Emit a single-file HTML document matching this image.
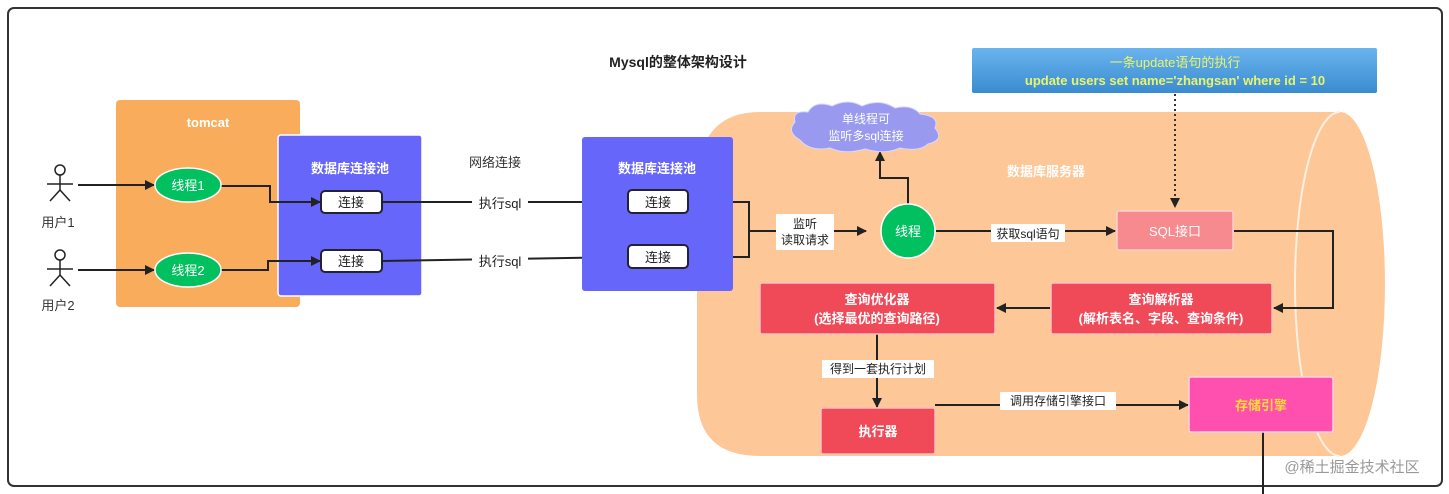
<!DOCTYPE html>
<html><head><meta charset="utf-8"><style>
html,body{margin:0;padding:0;background:#fff;}
svg{display:block;font-family:"Liberation Sans","Noto Sans CJK SC",sans-serif;}
</style></head><body>
<svg width="1449" height="494" viewBox="0 0 1449 494" xmlns="http://www.w3.org/2000/svg">
<defs>
<marker id="a" markerWidth="10" markerHeight="10" refX="9" refY="5" orient="auto" markerUnits="userSpaceOnUse"><path d="M0,0 L10,5 L0,10 Z" fill="#222"/></marker>
<linearGradient id="g" x1="0" y1="0" x2="0" y2="1"><stop offset="0" stop-color="#6ab4ee"/><stop offset="1" stop-color="#3a8bd0"/></linearGradient>
</defs>
<rect x="8" y="8" width="1434" height="478" rx="6" fill="#fff" stroke="#333" stroke-width="2"/>
<text x="678" y="67" text-anchor="middle" font-size="14" font-weight="bold" fill="#222">Mysql的整体架构设计</text>

<!-- cylinder -->
<path d="M760,112 L1340,112 A45,172 0 0 1 1340,456 L760,456 Q697,456 697,395 L697,180 Q700,112 760,112 Z" fill="#fdc797"/>
<path d="M1340,112 A45,172 0 0 0 1340,456" fill="none" stroke="#fff0e0" stroke-width="2"/>

<!-- top blue box -->
<rect x="972" y="48" width="405" height="45" rx="2" fill="url(#g)"/>
<text x="1175" y="67" text-anchor="middle" font-size="13" fill="#e8f56a">一条update语句的执行</text>
<text x="1175" y="85" text-anchor="middle" font-size="13" font-weight="bold" fill="#e8f56a">update users set name='zhangsan' where id = 10</text>
<line x1="1175" y1="94" x2="1175" y2="207" stroke="#333" stroke-width="2" stroke-dasharray="2,3" marker-end="url(#a)"/>

<!-- tomcat -->
<rect x="116" y="100" width="184" height="207" rx="4" fill="#f9ac5b"/>
<text x="208" y="127" text-anchor="middle" font-size="13" font-weight="bold" fill="#fff">tomcat</text>
<rect x="278" y="135" width="144" height="161" rx="3" fill="#6666fa" stroke="#fff" stroke-width="1.5"/>
<text x="350" y="173" text-anchor="middle" font-size="13" font-weight="bold" fill="#fff">数据库连接池</text>

<!-- users -->
<g stroke="#222" stroke-width="1.5" fill="none">
<circle cx="60" cy="170" r="5" fill="#fff"/><line x1="60" y1="175" x2="60" y2="190"/><line x1="47" y1="184" x2="73" y2="184"/><line x1="60" y1="190" x2="50" y2="201"/><line x1="60" y1="190" x2="70" y2="201"/>
<circle cx="60" cy="255" r="5" fill="#fff"/><line x1="60" y1="260" x2="60" y2="275"/><line x1="47" y1="269" x2="73" y2="269"/><line x1="60" y1="275" x2="50" y2="286"/><line x1="60" y1="275" x2="70" y2="286"/>
</g>
<text x="58" y="227" text-anchor="middle" font-size="13" fill="#333">用户1</text>
<text x="58" y="310" text-anchor="middle" font-size="13" fill="#333">用户2</text>

<g stroke="#222" stroke-width="2" fill="none">
<line x1="78" y1="185" x2="154" y2="185" marker-end="url(#a)"/>
<line x1="78" y1="270" x2="154" y2="270" marker-end="url(#a)"/>
<polyline points="221,186 270,186 270,202 320,202" marker-end="url(#a)"/>
<polyline points="221,270 268,270 268,261 320,261" marker-end="url(#a)"/>
<line x1="382" y1="202" x2="627" y2="202" marker-end="url(#a)"/>
<line x1="382" y1="261" x2="627" y2="257" marker-end="url(#a)"/>
<polyline points="688,202 749,202 749,257 688,257"/>
<line x1="749" y1="231" x2="866" y2="231" marker-end="url(#a)"/>
<polyline points="908,204 908,178 880,178 880,152" marker-end="url(#a)"/>
<line x1="936" y1="231" x2="1115" y2="231" marker-end="url(#a)"/>
<polyline points="1234,231 1333,231 1333,308 1274,308" marker-end="url(#a)"/>
<line x1="1050" y1="308" x2="997" y2="308" marker-end="url(#a)"/>
<line x1="877" y1="334" x2="877" y2="407" marker-end="url(#a)"/>
<line x1="935" y1="405" x2="1188" y2="405" marker-end="url(#a)"/>
<line x1="1263" y1="432" x2="1263" y2="494"/>
</g>

<ellipse cx="188" cy="185" rx="33" ry="17" fill="#00c060" stroke="#fff" stroke-width="1.5"/>
<text x="188" y="190" text-anchor="middle" font-size="13" fill="#fff">线程1</text>
<ellipse cx="188" cy="270" rx="33" ry="17" fill="#00c060" stroke="#fff" stroke-width="1.5"/>
<text x="188" y="275" text-anchor="middle" font-size="13" fill="#fff">线程2</text>

<g font-size="13" fill="#222" text-anchor="middle">
<rect x="321" y="191" width="61" height="22" rx="4" fill="#fff" stroke="#223" stroke-width="2"/>
<text x="351" y="207">连接</text>
<rect x="321" y="250" width="61" height="22" rx="4" fill="#fff" stroke="#223" stroke-width="2"/>
<text x="351" y="266">连接</text>
</g>
<text x="495" y="167" text-anchor="middle" font-size="13" fill="#333">网络连接</text>
<rect x="472" y="194" width="56" height="18" fill="#fff"/><text x="500" y="208" text-anchor="middle" font-size="13" fill="#222">执行sql</text>
<rect x="472" y="252" width="56" height="18" fill="#fff"/><text x="500" y="266" text-anchor="middle" font-size="13" fill="#222">执行sql</text>

<rect x="582" y="137" width="151" height="154" rx="3" fill="#6666fa"/>
<text x="657" y="173" text-anchor="middle" font-size="13" font-weight="bold" fill="#fff">数据库连接池</text>
<g font-size="13" fill="#222" text-anchor="middle">
<rect x="628" y="190" width="60" height="23" rx="4" fill="#fff" stroke="#223" stroke-width="2"/>
<text x="658" y="207">连接</text>
<rect x="628" y="245" width="60" height="23" rx="4" fill="#fff" stroke="#223" stroke-width="2"/>
<text x="658" y="262">连接</text>
</g>
<rect x="776" y="214" width="58" height="36" fill="#fff"/>
<text x="805" y="228" text-anchor="middle" font-size="12" fill="#222">监听</text>
<text x="805" y="244" text-anchor="middle" font-size="12" fill="#222">读取请求</text>

<circle cx="908" cy="231" r="27" fill="#00c060" stroke="#fff" stroke-width="1.5"/>
<text x="908" y="236" text-anchor="middle" font-size="13" fill="#fff">线程</text>

<!-- cloud -->
<path d="M800,140 Q786,132 795,122 Q792,110 808,112 Q815,100 832,106 Q848,98 862,106 Q880,98 895,108 Q912,104 920,114 Q940,116 935,128 Q945,140 928,144 Q920,152 900,148 Q885,155 865,149 Q845,155 830,148 Q810,152 800,140 Z" fill="#9999f0" stroke="#d8d8ff" stroke-width="1"/>
<text x="866" y="123" text-anchor="middle" font-size="12" fill="#fff">单线程可</text>
<text x="866" y="140" text-anchor="middle" font-size="12" fill="#fff">监听多sql连接</text>

<text x="1046" y="176" text-anchor="middle" font-size="13" font-weight="bold" fill="#fff">数据库服务器</text>
<rect x="991" y="224" width="74" height="18" fill="#fff"/><text x="1028" y="238" text-anchor="middle" font-size="12" fill="#222">获取sql语句</text>

<rect x="1117" y="211" width="116" height="39" rx="2" fill="#f78a8e" stroke="#ffd0d0" stroke-width="1.5"/>
<text x="1175" y="236" text-anchor="middle" font-size="13" fill="#fff">SQL接口</text>

<rect x="1051" y="283" width="221" height="51" rx="2" fill="#f04a58" stroke="#ffc0c0" stroke-width="1.5"/>
<text x="1161" y="304" text-anchor="middle" font-size="13" font-weight="bold" fill="#fff">查询解析器</text>
<text x="1161" y="323" text-anchor="middle" font-size="13" font-weight="bold" fill="#fff">(解析表名、字段、查询条件)</text>

<rect x="760" y="283" width="235" height="51" rx="2" fill="#f04a58" stroke="#ffc0c0" stroke-width="1.5"/>
<text x="877" y="304" text-anchor="middle" font-size="13" font-weight="bold" fill="#fff">查询优化器</text>
<text x="877" y="323" text-anchor="middle" font-size="13" font-weight="bold" fill="#fff">(选择最优的查询路径)</text>

<rect x="822" y="360" width="112" height="18" fill="#fff"/><text x="878" y="373" text-anchor="middle" font-size="12" fill="#222">得到一套执行计划</text>

<rect x="821" y="408" width="114" height="46" rx="2" fill="#f04a58" stroke="#ffc0c0" stroke-width="1.5"/>
<text x="878" y="436" text-anchor="middle" font-size="13" font-weight="bold" fill="#fff">执行器</text>

<rect x="1000" y="392" width="116" height="18" fill="#fff"/><text x="1058" y="405" text-anchor="middle" font-size="12" fill="#222">调用存储引擎接口</text>

<rect x="1189" y="377" width="144" height="55" rx="2" fill="#ff50b0" stroke="#ffd0e8" stroke-width="1.5"/>
<text x="1261" y="410" text-anchor="middle" font-size="13" font-weight="bold" fill="#ffdd33">存储引擎</text>

<text x="1352" y="472" text-anchor="middle" font-size="15" fill="#999">@稀土掘金技术社区</text>
</svg>
</body></html>
